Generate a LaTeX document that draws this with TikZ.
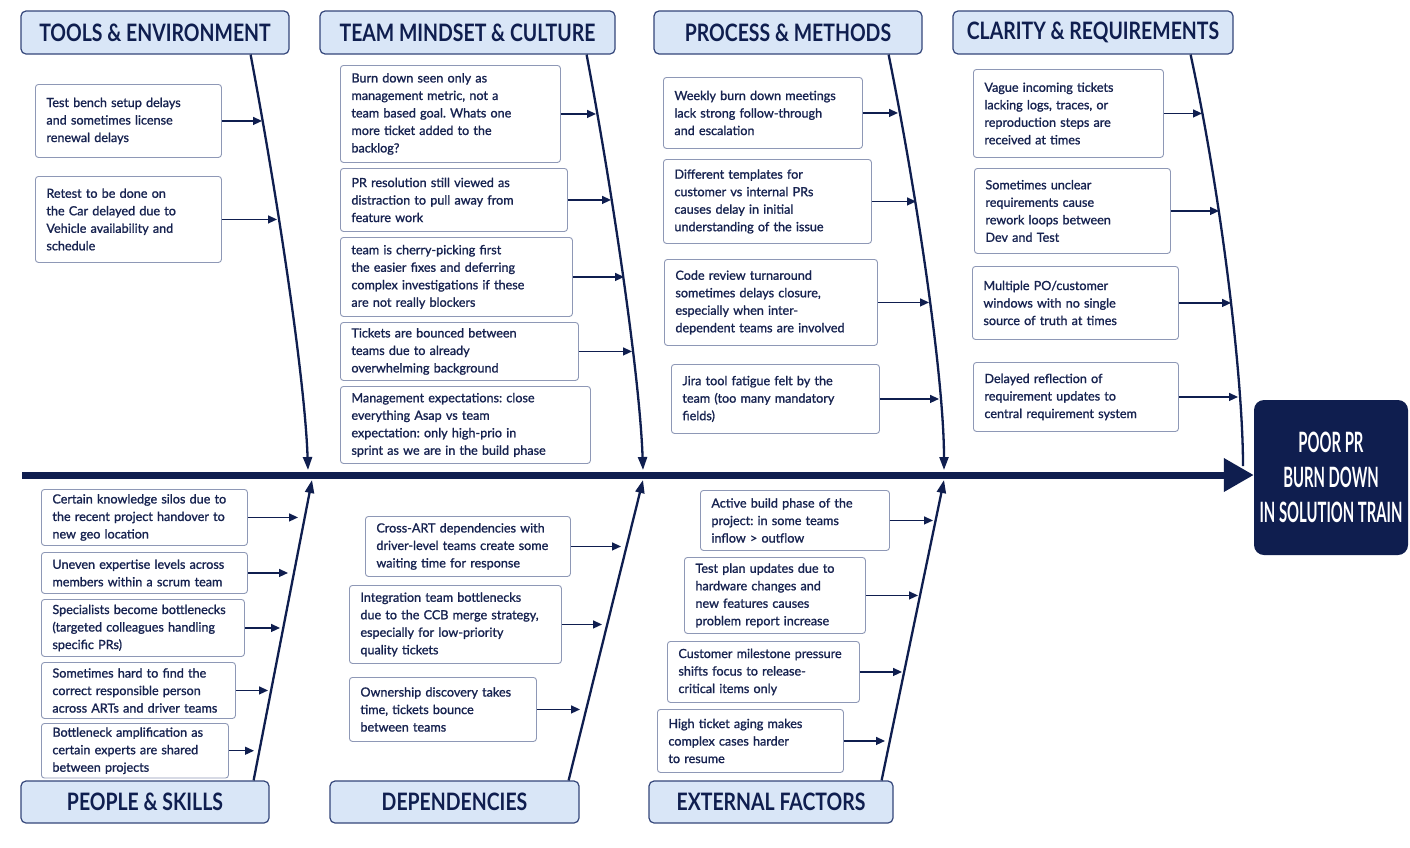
\documentclass[tikz,border=0pt]{standalone}
\usepackage{fontspec}
\setmainfont{Lato}
\newfontfamily\boxfont{Lato}[FakeBold=1.2]
\newfontfamily\hdrfont{Lato}[FakeStretch=0.81]
\newfontfamily\effectfont{Lato}[FakeStretch=0.53]
\usetikzlibrary{arrows.meta,positioning}
\hyphenpenalty=10000
\exhyphenpenalty=10000
\definecolor{navy}{HTML}{0F1E4F}
\definecolor{hdrfill}{HTML}{D9E6F7}
\definecolor{hdrline}{HTML}{34467A}
\definecolor{boxline}{HTML}{8E98B6}
\definecolor{txt}{HTML}{172350}
\tikzset{
  hdr/.style={draw=hdrline,line width=1.2pt,fill=hdrfill,rounded corners=5pt,text=navy,
    font=\hdrfont\bfseries\fontsize{24}{28}\selectfont,inner sep=0pt},
  cause/.style={draw=boxline,line width=0.9pt,fill=white,rounded corners=3pt,anchor=north west,
    align=left,inner xsep=11pt,inner ysep=4pt,text=txt,
    font=\boxfont\fontsize{12.6}{17.5}\selectfont\frenchspacing},
  bone/.style={draw=navy,line width=2.3pt},
  tip/.style={-{Triangle[length=13pt,width=9pt]}},
  arr/.style={draw=navy,line width=1.4pt,-{Triangle[length=9pt,width=8pt]}},
}

\begin{document}
\begin{tikzpicture}[x=1pt,y=-1pt]
\fill[white] (0,0) rectangle (1410,847);
\useasboundingbox (0,0) rectangle (1410,847);

% heads of the bones
\node[hdr,minimum width=268pt,minimum height=43pt] (tools) at (155,32.5) {TOOLS \& ENVIRONMENT};
\node[hdr,minimum width=295pt,minimum height=43pt] (mindset) at (467.5,32.5) {TEAM MINDSET \& CULTURE};
\node[hdr,minimum width=268pt,minimum height=43pt] (process) at (788,32.5) {PROCESS \& METHODS};
\node[hdr,minimum width=280pt,minimum height=43pt] (clarity) at (1093,32.5) {CLARITY \& REQUIREMENTS};
\node[hdr,minimum width=248pt,minimum height=42pt] (people) at (145,802) {PEOPLE \& SKILLS};
\node[hdr,minimum width=249pt,minimum height=42pt] (depend) at (454.5,802) {DEPENDENCIES};
\node[hdr,minimum width=244pt,minimum height=42pt] (external) at (771,802) {EXTERNAL FACTORS};

% effect
\node[fill=navy,rounded corners=10pt,minimum width=154pt,minimum height=155pt,text=white,align=center,
  font=\effectfont\bfseries\fontsize{28}{35}\selectfont] (effect) at (1331,477.5)
  {POOR PR\\BURN DOWN\\IN SOLUTION TRAIN};

% spine
\coordinate (tail) at (22,475);
\draw[navy,line width=7pt,-{Triangle[length=30pt,width=32pt]}] (tail) -- (tail -| effect.west);

% top bones
\coordinate (tb1) at (308,470);
\coordinate (tb2) at (643,470);
\coordinate (tb3) at (944,470);
\coordinate (tb4) at (1243,466);
\draw[bone,tip] ([xshift=-39pt]tools.south east) .. controls (278,200) and (305,380) .. (tb1);
\draw[bone,tip] ([xshift=-29pt]mindset.south east) .. controls (614,200) and (640,380) .. (tb2);
\draw[bone,tip] ([xshift=-34pt]process.south east) .. controls (918,200) and (944,380) .. (tb3);
\draw[bone] ([xshift=-43pt]clarity.south east) .. controls (1222,200) and (1243,380) .. (tb4);

% bottom bones
\coordinate (bb1) at (312,480);
\coordinate (bb2) at (643,480);
\coordinate (bb3) at (944,480);
\draw[bone,tip] ([xshift=-16pt]people.north east) -- (bb1);
\draw[bone,tip] ([xshift=-11pt]depend.north east) -- (bb2);
\draw[bone,tip] ([xshift=-12pt]external.north east) -- (bb3);

% tools & environment
\node[cause,text width=164pt,minimum height=73pt] (T1) at (35,84) {Test bench setup delays\\and sometimes license\\renewal delays};
\node[cause,text width=164pt,minimum height=86pt] (T2) at (35,176) {Retest to be done on\\the Car delayed due to\\Vehicle availability and\\schedule};
\coordinate (aT1) at (262,120);
\coordinate (aT2) at (277,214);
\draw[arr] (T1.east) -- (T1.east -| aT1);
\draw[arr] (T2.east) -- (T2.east -| aT2);

% team mindset & culture
\node[cause,text width=198pt,minimum height=97pt] (M1) at (340,65) {Burn down seen only as\\management metric, not a\\team based goal. Whats one\\more ticket added to the\\backlog?};
\node[cause,text width=205pt,minimum height=63pt] (M2) at (340,168) {PR resolution still viewed as\\distraction to pull away from\\feature work};
\node[cause,text width=210pt,minimum height=79pt] (M3) at (340,237) {team is cherry-picking first\\the easier fixes and deferring\\complex investigations if these\\are not really blockers};
\node[cause,text width=216pt,minimum height=58pt] (M4) at (340,322) {Tickets are bounced between\\teams due to already\\overwhelming background};
\node[cause,text width=228pt,minimum height=77pt] (M5) at (340,386) {Management expectations: close\\everything Asap vs team\\expectation: only high-prio in\\sprint as we are in the build phase};
\coordinate (aM1) at (596,110);
\coordinate (aM2) at (611,198);
\coordinate (aM3) at (624,276);
\coordinate (aM4) at (632,347);
\draw[arr] (M1.east) -- (M1.east -| aM1);
\draw[arr] (M2.east) -- (M2.east -| aM2);
\draw[arr] (M3.east) -- (M3.east -| aM3);
\draw[arr] (M4.east) -- (M4.east -| aM4);

% process & methods
\node[cause,text width=177pt,minimum height=71pt] (P1) at (663,77) {Weekly burn down meetings\\lack strong follow-through\\and escalation};
\node[cause,text width=186pt,minimum height=84pt] (P2) at (663,159) {Different templates for\\customer vs internal PRs\\causes delay in initial\\understanding of the issue};
\node[cause,text width=191pt,minimum height=86pt] (P3) at (664,259) {Code review turnaround\\sometimes delays closure,\\especially when inter-\\dependent teams are involved};
\node[cause,text width=186pt,minimum height=69pt] (P4) at (671,364) {Jira tool fatigue felt by the\\team (too many mandatory\\fields)};
\coordinate (aP1) at (898,110);
\coordinate (aP2) at (916,200);
\coordinate (aP3) at (929,298);
\coordinate (aP4) at (939,397);
\draw[arr] (P1.east) -- (P1.east -| aP1);
\draw[arr] (P2.east) -- (P2.east -| aP2);
\draw[arr] (P3.east) -- (P3.east -| aP3);
\draw[arr] (P4.east) -- (P4.east -| aP4);

% clarity & requirements
\node[cause,text width=168pt,minimum height=88pt] (C1) at (973,69) {Vague incoming tickets\\lacking logs, traces, or\\reproduction steps are\\received at times};
\node[cause,text width=174pt,minimum height=85pt] (C2) at (974,168) {Sometimes unclear\\requirements cause\\rework loops between\\Dev and Test};
\node[cause,text width=184pt,minimum height=73pt] (C3) at (972,266) {Multiple PO/customer\\windows with no single\\source of truth at times};
\node[cause,text width=183pt,minimum height=69pt] (C4) at (973,362) {Delayed reflection of\\requirement updates to\\central requirement system};
\coordinate (aC1) at (1202,110);
\coordinate (aC2) at (1219,205);
\coordinate (aC3) at (1231,299);
\coordinate (aC4) at (1238,396);
\draw[arr] (C1.east) -- (C1.east -| aC1);
\draw[arr] (C2.east) -- (C2.east -| aC2);
\draw[arr] (C3.east) -- (C3.east -| aC3);
\draw[arr] (C4.east) -- (C4.east -| aC4);

% people & skills
\node[cause,text width=184pt,minimum height=56pt] (S1) at (41,489) {Certain knowledge silos due to\\the recent project handover to\\new geo location};
\node[cause,text width=184pt,minimum height=41pt] (S2) at (41,552) {Uneven expertise levels across\\members within a scrum team};
\node[cause,text width=181pt,minimum height=57pt] (S3) at (41,599) {Specialists become bottlenecks\\(targeted colleagues handling\\specific PRs)};
\node[cause,text width=172pt,minimum height=56pt] (S4) at (41,662) {Sometimes hard to find the\\correct responsible person\\across ARTs and driver teams};
\node[cause,text width=165pt,minimum height=53pt] (S5) at (41,723) {Bottleneck amplification as\\certain experts are shared\\between projects};
\coordinate (aS1) at (298,517);
\coordinate (aS2) at (288,573);
\coordinate (aS3) at (280,627);
\coordinate (aS4) at (268,690);
\coordinate (aS5) at (254,748);
\draw[arr] (S1.east) -- (S1.east -| aS1);
\draw[arr] (S2.east) -- (S2.east -| aS2);
\draw[arr] (S3.east) -- (S3.east -| aS3);
\draw[arr] (S4.east) -- (S4.east -| aS4);
\draw[arr] (S5.east) -- (S5.east -| aS5);

% dependencies
\node[cause,text width=183pt,minimum height=60pt] (D1) at (365,516) {Cross-ART dependencies with\\driver-level teams create some\\waiting time for response};
\node[cause,text width=190pt,minimum height=78pt] (D2) at (349,585) {Integration team bottlenecks\\due to the CCB merge strategy,\\especially for low-priority\\quality tickets};
\node[cause,text width=165pt,minimum height=64pt] (D3) at (349,677) {Ownership discovery takes\\time, tickets bounce\\between teams};
\coordinate (aD1) at (621,545);
\coordinate (aD2) at (602,623);
\coordinate (aD3) at (580,710);
\draw[arr] (D1.east) -- (D1.east -| aD1);
\draw[arr] (D2.east) -- (D2.east -| aD2);
\draw[arr] (D3.east) -- (D3.east -| aD3);

% external factors
\node[cause,text width=167pt,minimum height=60pt] (E1) at (700,490) {Active build phase of the\\project: in some teams\\inflow > outflow};
\node[cause,text width=159pt,minimum height=76pt] (E2) at (684,557) {Test plan updates due to\\hardware changes and\\new features causes\\problem report increase};
\node[cause,text width=170pt,minimum height=61pt] (E3) at (667,641) {Customer milestone pressure\\shifts focus to release-\\critical items only};
\node[cause,text width=164pt,minimum height=63pt] (E4) at (657,709) {High ticket aging makes\\complex cases harder\\to resume};
\coordinate (aE1) at (933,521);
\coordinate (aE2) at (918,590);
\coordinate (aE3) at (902,672);
\coordinate (aE4) at (885,741);
\draw[arr] (E1.east) -- (E1.east -| aE1);
\draw[arr] (E2.east) -- (E2.east -| aE2);
\draw[arr] (E3.east) -- (E3.east -| aE3);
\draw[arr] (E4.east) -- (E4.east -| aE4);
\end{tikzpicture}
\end{document}
